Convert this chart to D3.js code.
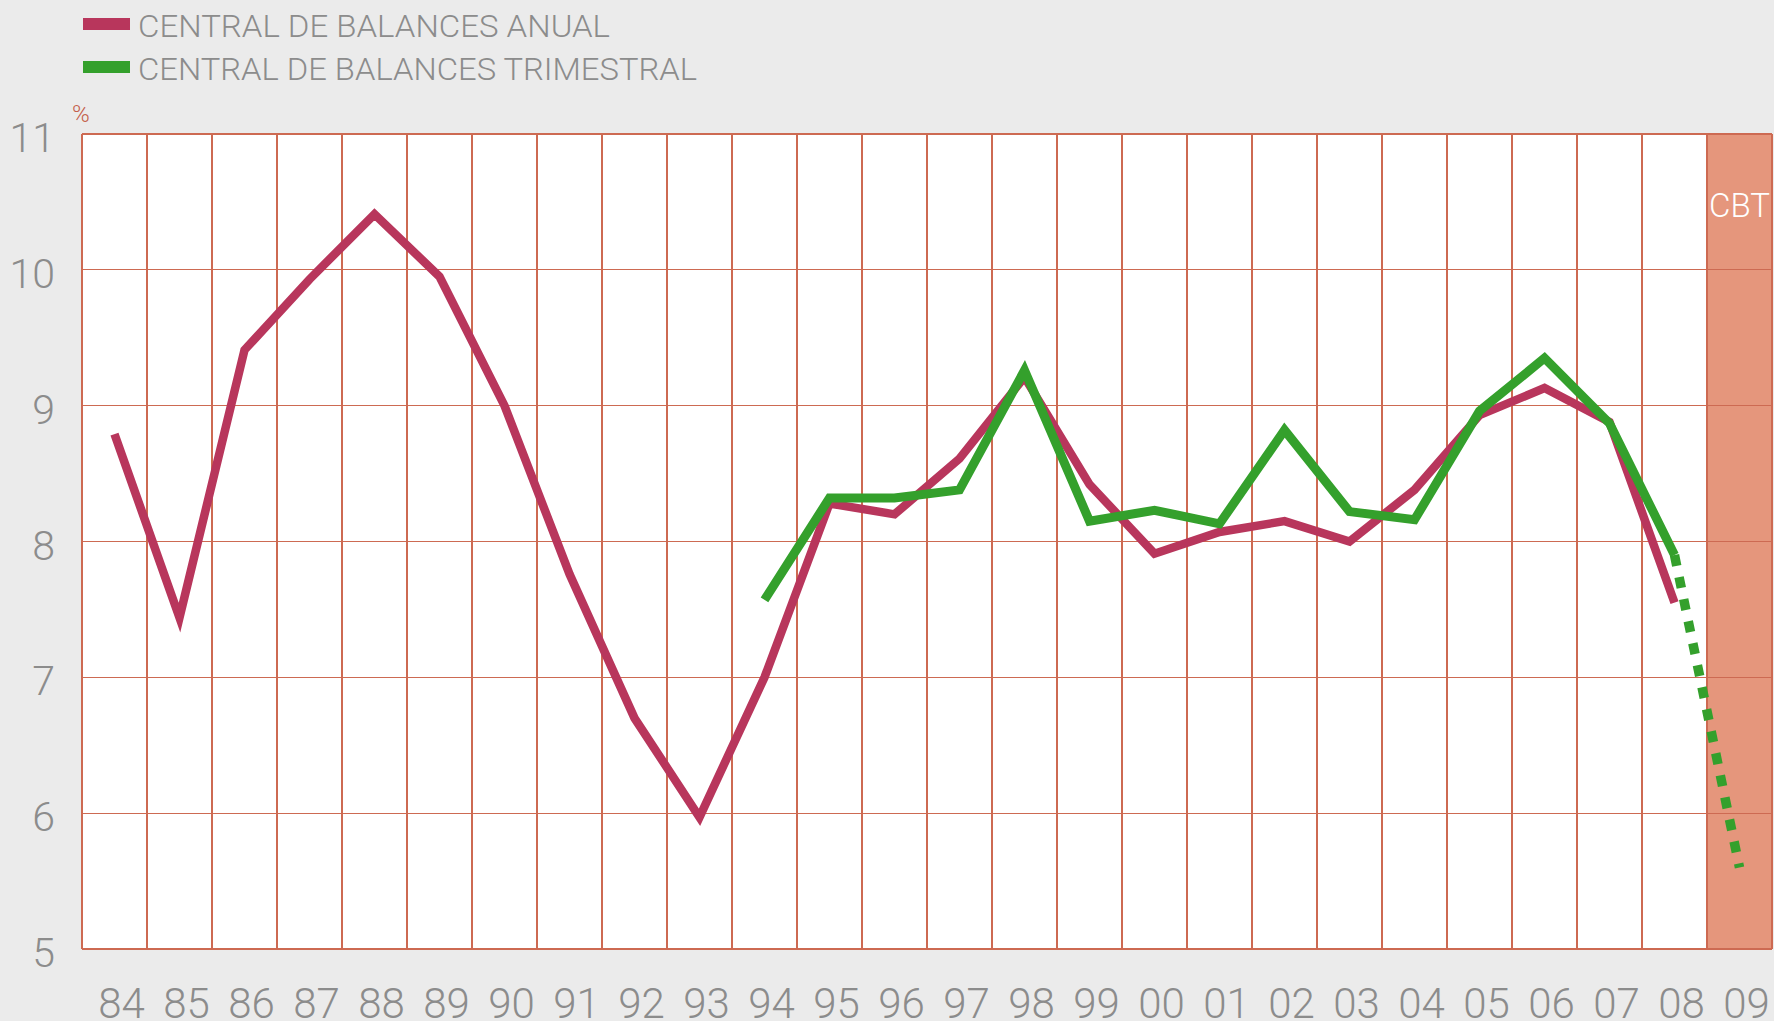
<!DOCTYPE html>
<html>
<head>
<meta charset="utf-8">
<script src="https://cdn.jsdelivr.net/npm/d3@7/dist/d3.min.js"></script>
<style>
  html, body { margin: 0; padding: 0; background: #ebebeb; }
  svg { display: block; }
  text { font-family: Roboto, "Liberation Sans", sans-serif; font-weight: 300; }
</style>
</head>
<body>
<svg id="chart" width="1774" height="1021"></svg>
<script>
const years = ["84","85","86","87","88","89","90","91","92","93","94","95","96","97","98","99","00","01","02","03","04","05","06","07","08","09"];
const anualYears = ["84","85","86","87","88","89","90","91","92","93","94","95","96","97","98","99","00","01","02","03","04","05","06","07","08"];
const anualValues = [8.79,7.44,9.41,9.93,10.41,9.95,9.0,7.76,6.70,5.97,7.0,8.28,8.2,8.61,9.21,8.42,7.91,8.07,8.15,8.0,8.38,8.93,9.13,8.88,7.55];
const trimYears = ["94","95","96","97","98","99","00","01","02","03","04","05","06","07","08"];
const trimValues = [7.57,8.32,8.32,8.38,9.26,8.15,8.23,8.13,8.82,8.22,8.16,8.96,9.35,8.87,7.9];
const projYears = ["08","09"];
const projValues = [7.9,5.6];
const yTicks = [5,6,7,8,9,10,11];
const shadedYear = "09";
const legendLabels = ["CENTRAL DE BALANCES ANUAL","CENTRAL DE BALANCES TRIMESTRAL"];
const unitLabel = "%";
const shadedLabel = "CBT";

(function () {
const colAnual = "#b8365c", colTrim = "#34a02c", gridCol = "#cd6a52", shadeCol = "#e5967c", textCol = "#8c8c8c";

const svg = d3.select("#chart");
const pL = 82, pR = 1772, pT = 134, pB = 949;

const x = d3.scaleBand().domain(years).range([pL, pR]).padding(0);
const y = d3.scaleLinear().domain([5, 11]).range([pB, pT]);
const cx = d => x(d) + x.bandwidth() / 2;

svg.append("rect").attr("x", pL).attr("y", pT).attr("width", pR - pL).attr("height", pB - pT).attr("fill", "#fff");
svg.append("rect").attr("x", x(shadedYear)).attr("y", pT).attr("width", x.bandwidth()).attr("height", pB - pT).attr("fill", shadeCol);

const g = svg.append("g").attr("stroke", gridCol).attr("stroke-width", 1.2).attr("shape-rendering", "crispEdges");
g.selectAll("line.v").data(years.concat(["end"])).join("line").attr("class", "v")
  .attr("x1", (d, i) => pL + i * x.bandwidth()).attr("x2", (d, i) => pL + i * x.bandwidth())
  .attr("y1", pT).attr("y2", pB);
g.selectAll("line.h").data(yTicks).join("line").attr("class", "h")
  .attr("x1", pL).attr("x2", pR).attr("y1", d => y(d)).attr("y2", d => y(d));

svg.append("g").selectAll("text").data(yTicks).join("text")
  .attr("x", 55).attr("y", d => y(d) + 18).attr("text-anchor", "end")
  .attr("font-size", 41).attr("fill", textCol).text(d => d);
svg.append("g").selectAll("text").data(years).join("text")
  .attr("x", d => cx(d) + 7).attr("y", 1018).attr("text-anchor", "middle")
  .attr("font-size", 42).attr("fill", textCol).text(d => d);

svg.append("text").attr("x", 72).attr("y", 122).attr("font-size", 24).attr("fill", "#c4604a").text(unitLabel);
svg.append("text").attr("x", cx(shadedYear)).attr("y", 217).attr("text-anchor", "middle")
  .attr("font-size", 33).attr("fill", "#fff").text(shadedLabel);

const line = d3.line().x(d => cx(d[0])).y(d => y(d[1]));

svg.append("path").datum(d3.zip(anualYears, anualValues)).attr("d", line)
  .attr("fill", "none").attr("stroke", colAnual).attr("stroke-width", 8.5).attr("stroke-linejoin", "miter");
svg.append("path").datum(d3.zip(trimYears, trimValues)).attr("d", line)
  .attr("fill", "none").attr("stroke", colTrim).attr("stroke-width", 9).attr("stroke-linejoin", "miter");
svg.append("path").datum(d3.zip(projYears, projValues)).attr("d", line)
  .attr("fill", "none").attr("stroke", colTrim).attr("stroke-width", 9.5).attr("stroke-dasharray", "11,11.5");

const legW = [472, 559];
const leg = svg.append("g");
legendLabels.forEach((lab, i) => {
  const yy = 18 + i * 43;
  leg.append("rect").attr("x", 83).attr("y", yy).attr("width", 47).attr("height", 12)
    .attr("fill", i === 0 ? colAnual : colTrim);
  leg.append("text").attr("x", 138).attr("y", yy + 19).attr("font-size", 31).attr("fill", textCol)
    .attr("textLength", legW[i]).attr("lengthAdjust", "spacingAndGlyphs").text(lab);
});
})();
</script>
</body>
</html>
